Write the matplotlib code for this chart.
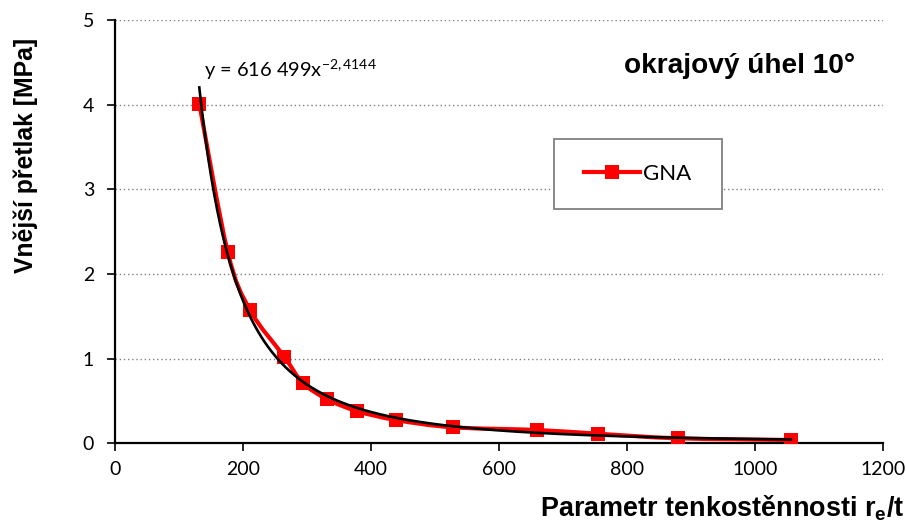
import numpy as np
import matplotlib
matplotlib.use("Agg")
import matplotlib.pyplot as plt
from matplotlib.path import Path
from matplotlib.patches import PathPatch, Rectangle
from matplotlib.lines import Line2D

# ---- data ----
x_vals = [131.7, 176.1, 210.9, 264.5, 293.3, 330.8, 377.7, 439.0, 527.7, 659.4, 754.2, 879.7, 1056.0]
y_vals = [4.01, 2.26, 1.574, 1.022, 0.715, 0.523, 0.381, 0.275, 0.189, 0.157, 0.113, 0.059, 0.039]
series_name = "GNA"
x_ticks = [0, 200, 400, 600, 800, 1000, 1200]
y_ticks = [0, 1, 2, 3, 4, 5]
eq_label = "y = 616 499x"
eq_exp = "-2,4144"
annot = "okrajový úhel 10°"
x_title = "Parametr tenkostěnnosti r$_\\mathregular{e}$/t"
y_title = "Vnější přetlak [MPa]"

plt.rcParams['mathtext.fontset'] = 'custom'
plt.rcParams['mathtext.rm'] = 'Lato'
plt.rcParams['mathtext.it'] = 'Lato'
plt.rcParams['mathtext.bf'] = 'Liberation Sans:bold'

W, H = 906, 526
fig = plt.figure(figsize=(W / 100, H / 100), dpi=100)
ax = fig.add_axes([115 / W, 1 - 443.3 / H, 768 / W, 423.5 / H])
renderer = fig.canvas.get_renderer()


def fit_width(t, target, vertical=False):
    """Scale a text's font size so that its rendered extent matches target px."""
    for _ in range(3):
        bb = t.get_window_extent(renderer=renderer)
        cur = bb.height if vertical else bb.width
        t.set_fontsize(t.get_fontsize() * target / cur)


def fig_xy(px, py):
    return px / W, 1 - py / H


ax.set_xlim(0, 1200)
ax.set_ylim(0, 5)
ax.set_xticks(x_ticks)
ax.set_yticks(y_ticks)
ax.set_xticklabels([str(v) for v in x_ticks], fontname='Lato', fontsize=14)
ax.set_yticklabels([str(v) for v in y_ticks], fontname='Lato', fontsize=14)
ax.tick_params(direction='out', length=6, width=1.2, color='black')
ax.tick_params(axis='x', pad=7)
ax.tick_params(axis='y', pad=9)
for s in ['top', 'right']:
    ax.spines[s].set_visible(False)
for s in ['left', 'bottom']:
    ax.spines[s].set_linewidth(1.6)
    ax.spines[s].set_color('black')
ax.yaxis.grid(True, linestyle=(0, (1, 2)), color='#808080', linewidth=1.0)
ax.set_axisbelow(True)

# ---- smoothed red line (Catmull-Rom style, like Excel's smoothed line) ----
P = np.column_stack([x_vals, y_vals])
n = len(P)
verts = [P[0]]
codes = [Path.MOVETO]
for i in range(n - 1):
    p0 = P[i - 1] if i > 0 else P[i]
    p1 = P[i]
    p2 = P[i + 1]
    p3 = P[i + 2] if i + 2 < n else P[i + 1]
    c1 = p1 + (p2 - p0) / 6.0
    c2 = p2 - (p3 - p1) / 6.0
    verts += [c1, c2, p2]
    codes += [Path.CURVE4] * 3
ax.add_patch(PathPatch(Path(verts, codes), facecolor='none', edgecolor='#FF0000',
                       linewidth=3.0, zorder=3, capstyle='round', joinstyle='round'))
ax.plot(x_vals, y_vals, linestyle='none', marker='s', markersize=10,
        color='#FF0000', markeredgewidth=0, zorder=4)

# ---- power trend line (least squares in log space, as Excel does) ----
b, lna = np.polyfit(np.log(x_vals), np.log(y_vals), 1)
xt = np.linspace(min(x_vals), max(x_vals), 400)
ax.plot(xt, np.exp(lna) * xt ** b, color='black', linewidth=1.9, zorder=5)

# ---- texts ----
t_eq = fig.text(*fig_xy(204, 77), eq_label + "$^{\\mathregular{" + eq_exp + "}}$",
                fontname='Lato', fontsize=14, ha='left', va='baseline')
fit_width(t_eq, 173)
t_an = fig.text(*fig_xy(855, 73), annot, fontname='Liberation Sans', fontweight='bold',
                fontsize=18, ha='right', va='baseline')
fit_width(t_an, 230)

t_xt = fig.text(*fig_xy(904, 517), x_title, fontname='Liberation Sans', fontweight='bold',
                fontsize=18, ha='right', va='baseline')
fit_width(t_xt, 363)
t_yt = fig.text(*fig_xy(26, 155), y_title, fontname='Liberation Sans', fontweight='bold',
                fontsize=17, ha='center', va='center', rotation=90)
fit_width(t_yt, 235, vertical=True)

# ---- legend (white box with grey border, entry placed inside) ----
x0, y0 = fig_xy(554, 209)
x1, y1 = fig_xy(722, 139)
fig.patches.append(Rectangle((x0, y0), x1 - x0, y1 - y0, transform=fig.transFigure,
                             facecolor='white', edgecolor='#808080', linewidth=1.3,
                             zorder=6))
handle = Line2D([], [], color='#FF0000', linewidth=3.0, marker='s', markersize=10,
                markeredgewidth=0)
leg = fig.legend([handle], [series_name], loc='center left',
                 bbox_to_anchor=fig_xy(584, 174), prop={'family': 'Lato', 'size': 16},
                 handlelength=2.5, handletextpad=0.15, borderpad=0.0, borderaxespad=0.0,
                 frameon=False)
leg.set_zorder(7)

fig.savefig('out.png', dpi=100)
